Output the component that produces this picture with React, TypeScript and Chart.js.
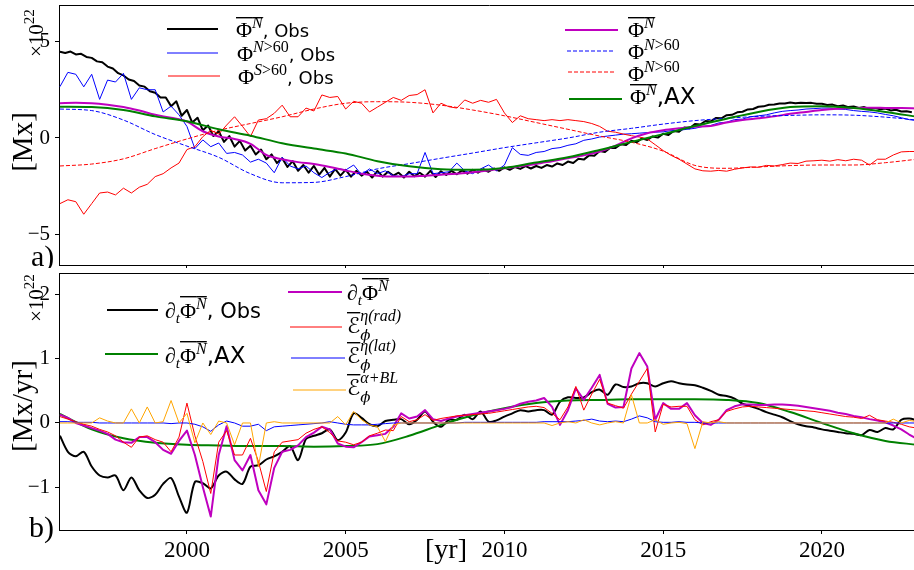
import { useEffect, useRef } from "react";
import { Chart, registerables } from "chart.js";

Chart.register(...registerables);

const SERIF = "'Liberation Serif', 'DejaVu Serif', serif";
const SANS = "'DejaVu Sans', 'Liberation Sans', sans-serif";
const SCRIPT = "'DejaVu Serif', 'DejaVu Sans', serif";

// Shared time axis (years)
const YEAR_MIN = 1995.97;
const YEAR_MAX = 2023.09;
const yearTicks = [2000, 2005, 2010, 2015, 2020];
const START = 1996;

// Panel a) magnetic flux, units of 1e22 Mx
const fluxTicks = [-5, 0, 5];
const FLUX_MIN = -6.58;
const FLUX_MAX = 6.89;

// Observed northern-hemisphere mean flux, sampled every 1/6 yr from 1996
const fluxNObs = [
  4.47, 4.4, 4.48, 4.33, 4.36, 4.2,
  4.15, 3.97, 3.92, 3.7, 3.6, 3.36,
  3.24, 3.03, 2.95, 2.72, 2.66, 2.42,
  2.34, 2.1, 2.1, 1.65, 1.9, 1.15,
  1.45, 0.8, 1.05, 0.4, 0.65, 0.1,
  0.35, -0.2, 0.1, -0.45, -0.15, -0.65,
  -0.4, -0.85, -0.6, -1.1, -0.85, -1.3,
  -1.05, -1.5, -1.2, -1.7, -1.4, -1.8,
  -1.45, -1.9, -1.55, -2.0, -1.6, -1.95,
  -1.65, -2.0, -1.7, -1.95, -1.75, -2.05,
  -1.7, -2.0, -1.75, -1.95, -1.8, -2.05,
  -1.75, -1.98, -1.8, -2.0, -1.7, -2.02,
  -1.72, -1.92, -1.7, -1.88, -1.68, -1.85,
  -1.65, -1.8, -1.62, -1.75, -1.58, -1.7,
  -1.52, -1.65, -1.5, -1.6, -1.46, -1.58,
  -1.45, -1.55, -1.4, -1.48, -1.32, -1.4,
  -1.22, -1.3, -1.08, -1.12, -0.9, -0.92,
  -0.68, -0.72, -0.5, -0.52, -0.32, -0.36,
  -0.14, -0.22, -0.02, -0.1, 0.08, 0.02,
  0.22, 0.16, 0.36, 0.32, 0.54, 0.5,
  0.72, 0.7, 0.88, 0.86, 1.04, 1.02,
  1.18, 1.2, 1.33, 1.36, 1.48, 1.5,
  1.62, 1.64, 1.72, 1.74, 1.79, 1.79,
  1.84, 1.8, 1.83, 1.81, 1.82, 1.77,
  1.77, 1.71, 1.73, 1.65, 1.68, 1.6,
  1.63, 1.55, 1.6, 1.51, 1.56, 1.49,
  1.53, 1.43, 1.46, 1.37, 1.39, 1.33,
];

// Observed polar-cap (>60 deg) flux, quarterly from 1996
const fluxN60Obs = [
  2.66, 3.4, 3.3, 2.65,
  3.3, 2.0, 3.0, 2.9,
  3.35, 2.0, 2.6, 2.5,
  2.5, 1.35, 1.65, 1.2,
  0.6, -0.55, -0.1, -0.45,
  -0.26, -0.8, -0.75, -0.88,
  -1.25, -1.1, -1.3, -1.8,
  -1.0, -1.45, -1.6, -1.45,
  -1.8, -2.05, -1.78, -1.58,
  -1.66, -1.4, -1.9, -1.6,
  -1.85, -1.7, -1.95, -2.0,
  -1.85, -1.85, -0.75, -1.85,
  -1.8, -1.75, -1.3, -1.7,
  -1.85, -1.6, -1.4, -1.7,
  -1.4, -0.5, -0.85, -0.9,
  -0.75, -0.7, -0.55, -0.5,
  -0.38, -0.3, -0.12, -0.05,
  0.05, 0.1, 0.15, 0.2,
  0.22, 0.25, 0.28, 0.3,
  0.32, 0.38, 0.4, 0.45,
  0.5, 0.6, 0.65, 0.78,
  0.82, 0.95, 0.98, 1.1,
  1.15, 1.2, 1.3, 1.38,
  1.42, 1.45, 1.5, 1.52,
  1.55, 1.55, 1.5, 1.48,
  1.42, 1.38, 1.35, 1.3,
  1.22, 1.15, 1.05, 0.95,
  0.9,
];

const fluxS60Obs = [
  -3.4, -3.2, -3.3, -3.95,
  -3.4, -2.85, -2.8, -2.95,
  -2.6, -2.85, -2.55, -2.4,
  -2.0, -1.85, -1.55, -1.3,
  -0.6, -0.45, 0.07, 0.4,
  0.2, 0.67, 1.1, 0.6,
  0.07, 0.93, 1.0, 1.28,
  1.7, 1.1, 1.1, 1.55,
  1.4, 2.23, 2.1, 2.15,
  1.5, 1.9, 1.8, 1.35,
  1.6, 1.85, 2.1, 1.95,
  2.2, 2.25, 2.5, 1.3,
  1.8, 1.62, 1.55, 1.97,
  1.8, 1.95, 1.85, 2.0,
  1.3, 0.8, 1.15, 1.0,
  0.95, 0.9, 0.95, 0.9,
  0.95, 0.9, 0.85, 0.75,
  0.6, 0.35, 0.3, 0.2,
  0.12, 0.05, -0.05, -0.35,
  -0.65, -0.9, -1.1, -1.35,
  -1.6, -1.7, -1.72, -1.68,
  -1.72, -1.62, -1.55, -1.5,
  -1.52, -1.42, -1.45, -1.38,
  -1.3, -1.32, -1.2, -1.18,
  -1.15, -1.2, -1.12, -1.18,
  -1.1, -1.15, -1.4, -1.1,
  -1.1, -0.88, -0.72, -0.7,
  -0.7,
];

// Model mean flux, every half year
const fluxNModel = [
  1.8, 1.82, 1.8, 1.72, 1.6, 1.42, 1.2, 1.05, 0.85, 0.35,
  0.08, -0.05, -0.3, -0.88, -1.1, -1.25, -1.35, -1.5, -1.68, -1.85,
  -1.95, -2.0, -2.0, -1.95, -1.9, -1.85, -1.78, -1.68, -1.57, -1.47,
  -1.35, -1.2, -1.05, -0.9, -0.7, -0.4, -0.02, 0.25, 0.4, 0.5,
  0.58, 0.62, 0.8, 0.93, 1.02, 1.12, 1.25, 1.35, 1.45, 1.52,
  1.56, 1.57, 1.56, 1.55, 1.53,
];

// Model polar-cap fluxes and axisymmetric run, yearly
const fluxN60Model = [
  1.5, 1.42, 0.93, 0.18, -0.42, -1.0, -1.85, -2.32, -2.3, -2.0,
  -1.6, -1.33, -1.05, -0.78, -0.5, -0.25, 0.0, 0.3, 0.5, 0.72,
  0.9, 1.02, 1.12, 1.17, 1.2, 1.18, 1.08, 0.93,
];
const fluxS60Model = [
  -1.45, -1.35, -1.08, -0.55, -0.05, 0.4, 0.75, 1.1, 1.5, 1.8,
  1.88, 1.85, 1.7, 1.45, 1.15, 0.8, 0.45, 0.1, -0.22, -0.68,
  -1.42, -1.57, -1.5, -1.43, -1.4, -1.4, -1.28, -1.1,
];
const fluxNAx = [
  1.62, 1.6, 1.45, 1.12, 0.87, 0.45, 0.12, -0.27, -0.55, -0.8,
  -1.2, -1.47, -1.62, -1.65, -1.55, -1.27, -1.0, -0.62, -0.2, 0.2,
  0.62, 1.0, 1.35, 1.6, 1.65, 1.55, 1.35, 1.1,
];

// Panel b) flux rate and EMF terms, units of 1e22 Mx/yr
const rateTicks = [-1, 0, 1, 2];
const RATE_MIN = -1.67;
const RATE_MAX = 2.34;

const rateObs = [
  -0.2, -0.45, -0.52, -0.45,
  -0.68, -0.82, -0.85, -0.82,
  -1.05, -0.85, -1.05, -1.17,
  -1.12, -0.95, -0.86, -1.15,
  -1.4, -0.92, -0.94, -1.02,
  -0.82, -0.76, -0.88, -0.95,
  -0.68, -0.66, -0.57, -0.52,
  -0.45, -0.36, -0.58, -0.25,
  -0.2, -0.16, -0.1, -0.27,
  -0.15, 0.15, 0.08, -0.02,
  -0.05, 0.03, 0.05, 0.06,
  -0.02, 0.05, 0.18, 0.02,
  -0.06, 0.05, 0.05, 0.13,
  0.06, 0.18, 0.02, 0.04,
  0.1, 0.15, 0.2, 0.18,
  0.2, 0.2, 0.13, 0.33,
  0.4, 0.39, 0.4, 0.48,
  0.52, 0.44, 0.6, 0.56,
  0.57, 0.62, 0.62, 0.57,
  0.62, 0.65, 0.62, 0.6,
  0.59, 0.55, 0.5, 0.44,
  0.42, 0.38, 0.3, 0.26,
  0.22, 0.17, 0.13, 0.09,
  0.03, -0.02, -0.05, -0.07,
  -0.1, -0.12, -0.14, -0.16,
  -0.17, -0.19, -0.11, -0.14,
  -0.08, -0.1, 0.05, 0.07,
  0.04,
];

const rateAx = [
  0.14, -0.1, -0.24, -0.31, -0.34, -0.35, -0.36, -0.36, -0.37, -0.36,
  -0.33, -0.2, -0.03, 0.12, 0.23, 0.31, 0.35, 0.36, 0.37, 0.37,
  0.37, 0.36, 0.31, 0.17, 0.0, -0.16, -0.28, -0.34,
];

const rateModel = [
  0.13, 0.08, 0.0, -0.04,
  -0.08, -0.12, -0.17, -0.26,
  -0.3, -0.31, -0.22, -0.22,
  -0.3, -0.42, -0.48, -0.28,
  -0.12, -0.5, -1.0, -1.46,
  -0.5, -0.05, -0.58, -0.74,
  -0.5, -1.05, -1.27, -0.7,
  -0.45, -0.42, -0.35, -0.22,
  -0.15, -0.06, -0.1, -0.32,
  -0.37, -0.38, -0.3, -0.21,
  -0.19, -0.17, -0.06, 0.15,
  0.07, 0.1, 0.2, 0.06,
  0.03, 0.07, 0.1, 0.12,
  0.14, 0.16, 0.18, 0.2,
  0.22, 0.25, 0.3, 0.33,
  0.35, 0.39, 0.25, -0.03,
  0.2, 0.54, 0.36, 0.55,
  0.75, 0.3, 0.24, 0.25,
  0.85, 1.09, 0.88, 0.05,
  0.31, 0.22, 0.22, 0.31,
  0.12, 0.0, -0.03, 0.05,
  0.2, 0.26, 0.29, 0.29,
  0.28, 0.28, 0.29, 0.29,
  0.28, 0.27, 0.25, 0.23,
  0.21, 0.19, 0.16, 0.14,
  0.11, 0.09, 0.06, 0.04,
  0.01, -0.04, -0.1, -0.18,
  -0.25,
];

const emfRad = [
  0.1, 0.06, 0.02, -0.02,
  -0.05, -0.1, -0.14, -0.2,
  -0.3, -0.38, -0.22, -0.2,
  -0.26, -0.3, -0.45, -0.22,
  0.31, -0.2, -0.6, -1.1,
  -0.3, -0.12, -0.5, -0.5,
  -0.24, -0.6, -1.07, -0.45,
  -0.3, -0.28, -0.26, -0.16,
  -0.1, -0.06, -0.15, -0.28,
  -0.3, -0.34, -0.3, -0.2,
  -0.16, -0.11, -0.12, 0.1,
  0.02, 0.05, 0.13, 0.04,
  0.07, 0.09, 0.11, 0.12,
  0.13, 0.14, 0.15, 0.17,
  0.19, 0.21, 0.23, 0.25,
  0.26, 0.24, 0.15, 0.05,
  0.25, 0.57, 0.2, 0.45,
  0.68, 0.31, 0.27, 0.23,
  0.45, 0.65, 0.85, -0.14,
  0.29, 0.25, 0.26, 0.26,
  0.05, -0.03, 0.02, 0.05,
  0.18, 0.22, 0.25, 0.26,
  0.25, 0.24, 0.23, 0.22,
  0.21, 0.2, 0.19, 0.18,
  0.16, 0.14, 0.12, 0.1,
  0.09, 0.07, 0.12, 0.05,
  0.03, 0.01, -0.02, -0.06,
  -0.08,
];

const emfLat = [
  0.02, 0.02, 0.01, 0.01,
  0.01, 0.0, 0.0, 0.0,
  0.0, 0.0, 0.0, 0.0,
  0.0, 0.0, -0.01, 0.0,
  0.0, -0.02, -0.06, -0.13,
  -0.03, 0.03, 0.0, -0.05,
  -0.05, -0.02, -0.12, -0.06,
  -0.05, -0.04, -0.03, -0.02,
  -0.01, 0.0, 0.02, 0.0,
  -0.02, -0.03, -0.03, -0.03,
  -0.02, -0.01, 0.0, 0.0,
  0.0, 0.0, 0.0, 0.0,
  0.0, 0.0, 0.0, 0.01,
  0.01, 0.01, 0.01, 0.01,
  0.01, 0.01, 0.01, 0.01,
  0.01, 0.02, 0.02, 0.02,
  0.02, 0.03, 0.04, 0.06,
  0.03, 0.02, 0.03, 0.02,
  0.06, 0.11, 0.08, 0.02,
  0.01, 0.01, 0.02, 0.01,
  0.01, 0.0, 0.0, 0.0,
  0.0, 0.0, 0.0, 0.0,
  0.0, 0.0, 0.0, 0.0,
  0.0, 0.0, 0.0, 0.0,
  0.0, 0.0, 0.0, 0.0,
  0.0, 0.0, 0.0, 0.0,
  0.0, 0.0, 0.0, 0.0,
  0.0,
];

const emfAlphaBL = [
  0.0, 0.0, 0.0, 0.0,
  0.0, 0.08, 0.03, 0.0,
  0.0, 0.22, 0.0, 0.25,
  0.0, 0.02, 0.35, 0.0,
  0.15, -0.31, 0.0, -0.18,
  0.03, 0.0, -0.34, 0.0,
  0.0, -0.68, 0.0, 0.02,
  0.0, 0.0, 0.0, 0.0,
  0.0, 0.0, 0.0, 0.1,
  -0.03, 0.18, 0.05, -0.03,
  -0.06, -0.29, -0.03, 0.0,
  0.0, 0.0, 0.0, 0.0,
  0.0, 0.0, 0.0, 0.0,
  0.0, 0.0, 0.0, 0.0,
  0.0, 0.0, 0.0, 0.0,
  0.0, 0.0, -0.04, 0.0,
  0.02, 0.0, 0.05, 0.0,
  -0.03, 0.0, 0.02, 0.0,
  0.44, 0.0, 0.0, 0.05,
  -0.02, 0.0, 0.01, -0.01,
  -0.4, 0.02, 0.0, 0.02,
  0.0, 0.0, 0.0, 0.0,
  0.0, 0.0, 0.0, 0.0,
  0.0, 0.0, 0.0, 0.0,
  0.0, 0.0, 0.0, 0.0,
  0.0, 0.0, 0.0, 0.0,
  0.0, 0.06, 0.0, 0.04,
  0.02,
];

const BLACK = "#000000";
const BLUE = "#0000ff";
const RED = "#ff0000";
const MAGENTA = "#bf00bf";
const GREEN = "#008000";
const ORANGE = "#ffa500";

function toPoints(step: number, values: number[]) {
  return values.map((y, i) => ({ x: START + i * step, y }));
}

function line(data: { x: number; y: number }[], color: string, width: number, extra: any = {}) {
  return {
    data,
    borderColor: color,
    backgroundColor: color,
    borderWidth: width,
    pointRadius: 0,
    tension: 0,
    fill: false,
    ...extra,
  };
}

const SMOOTH = { cubicInterpolationMode: "monotone" };
const DASH = { borderDash: [4, 2] };

// ---- rich text helpers (sub/superscripts, overlines) ----
type Piece = { t: string; f: string; dy?: number; bar?: boolean; under?: boolean };

function drawRich(ctx: CanvasRenderingContext2D, x: number, y: number, pieces: Piece[], barRise = 20) {
  let cursor = x;
  let lastStart = x;
  ctx.textAlign = "left";
  ctx.textBaseline = "alphabetic";
  ctx.fillStyle = "#000";
  for (const p of pieces) {
    ctx.font = p.f;
    const w = ctx.measureText(p.t).width;
    const sx = p.under ? lastStart : cursor;
    ctx.fillText(p.t, sx, y + (p.dy || 0));
    if (p.bar) ctx.fillRect(sx, y - barRise, w, 1.4);
    if (!p.under) lastStart = sx;
    cursor = Math.max(cursor, sx + w);
  }
}

function handle(ctx: CanvasRenderingContext2D, x1: number, x2: number, y: number, color: string, width: number, dash: number[] = []) {
  ctx.save();
  ctx.strokeStyle = color;
  ctx.lineWidth = width;
  ctx.setLineDash(dash);
  ctx.lineCap = "butt";
  ctx.beginPath();
  ctx.moveTo(x1, y);
  ctx.lineTo(x2, y);
  ctx.stroke();
  ctx.restore();
}

function rotatedText(ctx: CanvasRenderingContext2D, cx: number, cy: number, text: string, font: string) {
  ctx.save();
  ctx.translate(cx, cy);
  ctx.rotate(-Math.PI / 2);
  ctx.font = font;
  ctx.fillStyle = "#000";
  ctx.textAlign = "center";
  ctx.textBaseline = "middle";
  ctx.fillText(text, 0, 0);
  ctx.restore();
}

function scaleFactor(ctx: CanvasRenderingContext2D, x: number, yStart: number) {
  ctx.save();
  ctx.translate(x, yStart);
  ctx.rotate(-Math.PI / 2);
  drawRich(ctx, 0, 0, [
    { t: "\u00d710", f: `21px ${SERIF}` },
    { t: "22", f: `15px ${SERIF}`, dy: -9 },
  ]);
  ctx.restore();
}

function topSpine(chart: any) {
  const { ctx, chartArea } = chart;
  ctx.save();
  ctx.strokeStyle = "#000";
  ctx.lineWidth = 1;
  ctx.beginPath();
  ctx.moveTo(chartArea.left, Math.round(chartArea.top) + 0.5);
  ctx.lineTo(chartArea.right, Math.round(chartArea.top) + 0.5);
  ctx.stroke();
  ctx.restore();
}

const PHI = `22px ${SERIF}`;
const SUP_I = `italic 16px ${SERIF}`;
const SUP_R = `16px ${SERIF}`;

const fluxOverlay = {
  id: "fluxOverlay",
  afterDraw(chart: any) {
    const ctx: CanvasRenderingContext2D = chart.ctx;
    topSpine(chart);
    const obs = `18px ${SANS}`;
    // left legend
    handle(ctx, 167, 218, 29, BLACK, 2);
    drawRich(ctx, 236, 37, [
      { t: "\u03a6", f: PHI, bar: true },
      { t: "N", f: SUP_I, dy: -9, bar: true },
      { t: ", Obs", f: obs },
    ]);
    handle(ctx, 167, 218, 53, BLUE, 1);
    drawRich(ctx, 237, 61, [
      { t: "\u03a6", f: PHI },
      { t: "N", f: SUP_I, dy: -9 },
      { t: ">60", f: SUP_R, dy: -9 },
      { t: ", Obs", f: obs },
    ]);
    handle(ctx, 168, 220, 76, RED, 1);
    drawRich(ctx, 238, 84, [
      { t: "\u03a6", f: PHI },
      { t: "S", f: SUP_I, dy: -9 },
      { t: ">60", f: SUP_R, dy: -9 },
      { t: ", Obs", f: obs },
    ]);
    // right legend
    handle(ctx, 565, 618, 30, MAGENTA, 2);
    drawRich(ctx, 628, 37, [
      { t: "\u03a6", f: PHI, bar: true },
      { t: "N", f: SUP_I, dy: -9, bar: true },
    ]);
    handle(ctx, 567, 615, 51, BLUE, 1, [4, 2]);
    drawRich(ctx, 628, 59, [
      { t: "\u03a6", f: PHI },
      { t: "N", f: SUP_I, dy: -9 },
      { t: ">60", f: SUP_R, dy: -9 },
    ]);
    handle(ctx, 568, 615, 72, RED, 1, [4, 2]);
    drawRich(ctx, 628, 81, [
      { t: "\u03a6", f: PHI },
      { t: "N", f: SUP_I, dy: -9 },
      { t: ">60", f: SUP_R, dy: -9 },
    ]);
    handle(ctx, 569, 622, 99, GREEN, 2);
    drawRich(ctx, 630, 104, [
      { t: "\u03a6", f: PHI, bar: true },
      { t: "N", f: SUP_I, dy: -9, bar: true },
      { t: ",AX", f: `23px ${SANS}` },
    ]);
    // axis annotations
    rotatedText(ctx, 24, 142, "[Mx]", `29px ${SERIF}`);
    scaleFactor(ctx, 43, 57);
    ctx.save();
    ctx.font = `30px ${SERIF}`;
    ctx.fillStyle = "#000";
    ctx.textAlign = "left";
    ctx.textBaseline = "alphabetic";
    ctx.fillText("a)", 31, 266);
    ctx.restore();
  },
};

const B = 258; // vertical offset of the lower canvas on the page

const rateOverlay = {
  id: "rateOverlay",
  afterDraw(chart: any) {
    const ctx: CanvasRenderingContext2D = chart.ctx;
    topSpine(chart);
    const sub_t = { t: "t", f: `italic 15px ${SERIF}`, dy: 5 };
    // left legend
    handle(ctx, 107, 158, 310 - B, BLACK, 2);
    drawRich(ctx, 165, 318 - B, [
      { t: "\u2202", f: PHI },
      sub_t,
      { t: "\u03a6", f: PHI, bar: true },
      { t: "N", f: SUP_I, dy: -9, bar: true },
      { t: ", Obs", f: `21px ${SANS}` },
    ], 22);
    handle(ctx, 105, 158, 354 - B, GREEN, 2);
    drawRich(ctx, 165, 363 - B, [
      { t: "\u2202", f: PHI },
      sub_t,
      { t: "\u03a6", f: PHI, bar: true },
      { t: "N", f: SUP_I, dy: -9, bar: true },
      { t: ",AX", f: `23px ${SANS}` },
    ], 22);
    // right legend
    handle(ctx, 288, 342, 292 - B, MAGENTA, 2);
    drawRich(ctx, 347, 300 - B, [
      { t: "\u2202", f: PHI },
      sub_t,
      { t: "\u03a6", f: PHI, bar: true },
      { t: "N", f: SUP_I, dy: -9, bar: true },
    ], 22);
    const emf = (sup: string, y: number) =>
      drawRich(ctx, 347, y - B, [
        { t: "\u2130", f: `22px ${SCRIPT}`, bar: true },
        { t: sup, f: SUP_I, dy: -12 },
        { t: "\u03d5", f: `italic 15px ${SCRIPT}`, dy: 7, under: true },
      ], 21);
    handle(ctx, 290, 342, 327 - B, RED, 1);
    emf("\u03b7(rad)", 333);
    handle(ctx, 291, 345, 358 - B, BLUE, 1);
    emf("\u03b7(lat)", 363);
    handle(ctx, 293, 346, 390 - B, ORANGE, 1);
    emf("\u03b1+BL", 395);
    // axis annotations
    rotatedText(ctx, 24, 406 - B, "[Mx/yr]", `29px ${SERIF}`);
    scaleFactor(ctx, 43, 322 - B);
    ctx.save();
    ctx.fillStyle = "#000";
    ctx.textAlign = "left";
    ctx.textBaseline = "alphabetic";
    ctx.font = `30px ${SERIF}`;
    ctx.fillText("b)", 29, 537 - B);
    ctx.font = `28px ${SERIF}`;
    ctx.fillText("[yr]", 425, 558 - B);
    ctx.restore();
  },
};

const minus = (v: number) => (v < 0 ? "\u2212" + Math.abs(v) : String(v));

function scales(yMin: number, yMax: number, yTicks: number[], showYears: boolean, xHeight: number) {
  return {
    x: {
      type: "linear",
      min: YEAR_MIN,
      max: YEAR_MAX,
      afterBuildTicks: (a: any) => {
        a.ticks = yearTicks.map((v) => ({ value: v }));
      },
      afterFit: (a: any) => {
        a.height = xHeight;
        a.paddingLeft = 0;
        a.paddingRight = 0;
      },
      ticks: {
        display: showYears,
        color: "#000",
        font: { family: SERIF, size: 23 },
        padding: 3,
        maxRotation: 0,
        autoSkip: false,
        callback: (v: any) => String(v),
      },
      grid: { display: true, drawOnChartArea: false, drawTicks: true, tickLength: 4, color: "#000", lineWidth: 1 },
      border: { display: true, color: "#000", width: 1 },
    },
    y: {
      type: "linear",
      min: yMin,
      max: yMax,
      afterBuildTicks: (a: any) => {
        a.ticks = yTicks.map((v) => ({ value: v }));
      },
      afterFit: (a: any) => {
        a.width = 59;
        a.paddingTop = 0;
        a.paddingBottom = 0;
      },
      ticks: {
        color: "#000",
        font: { family: SERIF, size: 21 },
        padding: 5,
        callback: (v: any) => minus(Number(v)),
      },
      grid: { display: true, drawOnChartArea: false, drawTicks: true, tickLength: 4, color: "#000", lineWidth: 1 },
      border: { display: true, color: "#000", width: 1 },
    },
  };
}

function withOrder(sets: any[]) {
  // later series are drawn on top
  return sets.map((s, i) => ({ ...s, order: sets.length - i }));
}

export default function App() {
  const topRef = useRef<HTMLCanvasElement>(null);
  const botRef = useRef<HTMLCanvasElement>(null);

  useEffect(() => {
    const common = {
      responsive: false,
      animation: false,
      events: [],
      plugins: { legend: { display: false }, tooltip: { enabled: false } },
      elements: { line: { borderCapStyle: "butt", borderJoinStyle: "round" } },
    };

    const top = new Chart(topRef.current as HTMLCanvasElement, {
      type: "line",
      data: {
        datasets: withOrder([
          line(toPoints(1 / 6, fluxNObs), BLACK, 2),
          line(toPoints(0.25, fluxN60Obs), BLUE, 1),
          line(toPoints(0.25, fluxS60Obs), RED, 1),
          line(toPoints(0.5, fluxNModel), MAGENTA, 2, SMOOTH),
          line(toPoints(1, fluxN60Model), BLUE, 1, { ...SMOOTH, ...DASH }),
          line(toPoints(1, fluxS60Model), RED, 1, { ...SMOOTH, ...DASH }),
          line(toPoints(1, fluxNAx), GREEN, 2, SMOOTH),
        ]),
      },
      options: {
        ...common,
        layout: { padding: { left: 0, top: 5, right: 10, bottom: 0 } },
        scales: scales(FLUX_MIN, FLUX_MAX, fluxTicks, false, 3),
      } as any,
      plugins: [fluxOverlay],
    } as any);

    const bottom = new Chart(botRef.current as HTMLCanvasElement, {
      type: "line",
      data: {
        datasets: withOrder([
          line(toPoints(0.25, rateObs), BLACK, 2, { tension: 0.3 }),
          line(toPoints(1, rateAx), GREEN, 2, SMOOTH),
          line(toPoints(0.25, rateModel), MAGENTA, 2),
          line(toPoints(0.25, emfRad), RED, 1),
          line(toPoints(0.25, emfLat), BLUE, 1),
          line(toPoints(0.25, emfAlphaBL), ORANGE, 1),
        ]),
      },
      options: {
        ...common,
        layout: { padding: { left: 0, top: 15, right: 10, bottom: 0 } },
        scales: scales(RATE_MIN, RATE_MAX, rateTicks, true, 40),
      } as any,
      plugins: [rateOverlay],
    } as any);

    return () => {
      top.destroy();
      bottom.destroy();
    };
  }, []);

  return (
    <div
      style={{
        position: "absolute",
        left: 0,
        top: 0,
        width: 914,
        height: 570,
        overflow: "hidden",
        background: "#fff",
      }}
    >
      <canvas ref={topRef} width={930} height={268} style={{ position: "absolute", left: 0, top: 0 }} />
      <canvas ref={botRef} width={930} height={312} style={{ position: "absolute", left: 0, top: B }} />
    </div>
  );
}
